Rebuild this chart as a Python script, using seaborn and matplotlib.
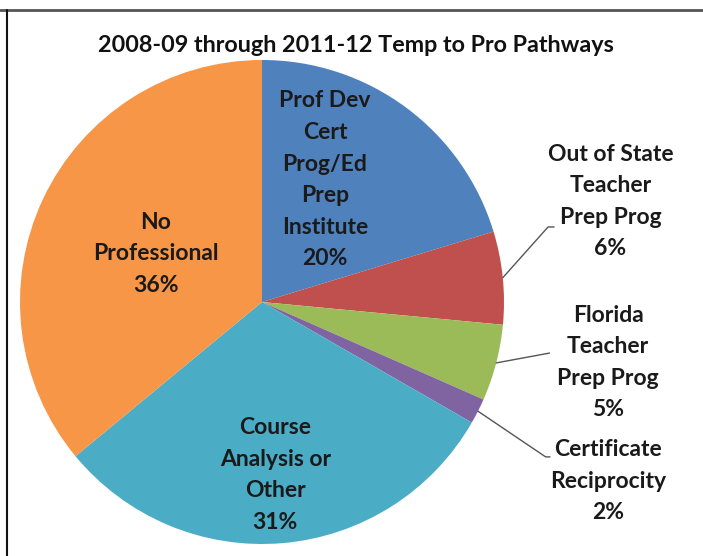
import matplotlib
matplotlib.use('Agg')
import matplotlib.pyplot as plt
import seaborn as sns
import numpy as np
from matplotlib.lines import Line2D

# data (share of pathways, %)
categories = ['Prof Dev\nCert\nProg/Ed\nPrep\nInstitute',
              'Out of State\nTeacher\nPrep Prog',
              'Florida\nTeacher\nPrep Prog',
              'Certificate\nReciprocity',
              'Course\nAnalysis or\nOther',
              'No\nProfessional']
shares = [20.3, 6.2, 5.1, 1.7, 30.7, 36.0]
colors = ['#4F81BD', '#C0504D', '#9BBB59', '#8064A2', '#4BACC6', '#F79646']

sns.set_theme(style='white')
plt.rcParams['font.family'] = ['Lato', 'DejaVu Sans']

fig = plt.figure(figsize=(7.03, 5.56), dpi=100)
fig.patch.set_facecolor('white')

# pie axes, centred around (262, 302) px with radius ~242 px
ax = fig.add_axes([20 / 703, 12 / 556, 484 / 703, 484 / 556])
wedges, _ = ax.pie(shares, colors=colors, startangle=90, counterclock=False,
                   wedgeprops=dict(linewidth=0))
ax.set_xlim(-1, 1)
ax.set_ylim(-1, 1)
ax.set_aspect('equal')
ax.axis('off')

# label placement (data coords of the pie axes)
label_pos = [(0.26, 0.505), (1.44, 0.415), (1.43, -0.25),
             (1.43, -0.74), (0.055, -0.715), (-0.44, 0.20)]
# leader line elbow points for the outside labels (index -> points)
leaders = {1: [(1.182, 0.31), (1.207, 0.31)],
           2: [(1.188, -0.211)],
           3: [(1.172, -0.64), (1.19, -0.64)]}

total = sum(shares)
for i, (w, lab, val) in enumerate(zip(wedges, categories, shares)):
    txt = f'{lab}\n{val / total * 100:.0f}%'
    x, y = label_pos[i]
    ax.text(x, y, txt, ha='center', va='center', fontsize=16.5,
            fontweight='bold', color='#1a1a1a', linespacing=1.62)
    if i in leaders:
        mid = np.deg2rad((w.theta1 + w.theta2) / 2)
        pts = [(np.cos(mid), np.sin(mid))] + leaders[i]
        xs, ys = zip(*pts)
        ax.plot(xs, ys, color='#555555', lw=1, clip_on=False)

fig.text(0.506, 0.919, '2008-09 through 2011-12 Temp to Pro Pathways',
         ha='center', va='center', fontsize=16.8, fontweight='bold',
         color='#111111')

# frame lines of the original screenshot
fig.add_artist(Line2D([0, 1], [1 - 9.5 / 556] * 2, color='#555555', lw=2))
fig.add_artist(Line2D([6.5 / 703] * 2, [0, 1 - 9.5 / 556], color='#111111', lw=1.5))

fig.savefig('out.png', dpi=100, facecolor='white')
